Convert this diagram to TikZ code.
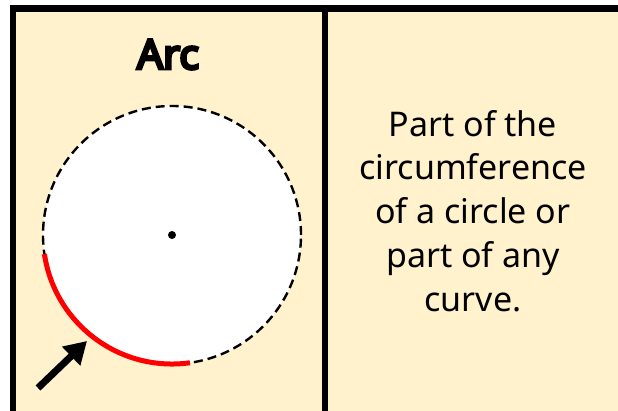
\documentclass[tikz,border=0pt]{standalone}
\usepackage{fontspec}
\setmainfont{Noto Sans}
\newfontfamily\titlefont{Noto Sans}[FakeBold=7]
\usepackage{tikz}
\usetikzlibrary{arrows.meta, positioning, calc}
\definecolor{mycream}{RGB}{255,242,204}
\definecolor{myred}{RGB}{255,0,0}
\definecolor{mydark}{RGB}{0,0,0}
\tikzset{
  frameline/.style={line width=6.5pt, color=mydark},
  titlenode/.style={font=\fontsize{41}{48}\titlefont, inner sep=0pt, anchor=base},
  textnode/.style={font=\fontsize{34}{43.8}\selectfont, align=center, inner sep=0pt},
  dashcircle/.style={circle, draw=mydark, fill=white, minimum size=258pt, inner sep=0pt,
    outer sep=0pt, line width=2.4pt, dash pattern=on 9pt off 5pt},
  arcline/.style={line width=5pt, color=myred},
  arrow/.style={-{Triangle[length=22pt, width=25pt]}, line width=7pt, color=mydark}
}

\begin{document}
\begin{tikzpicture}[x=1pt, y=-1pt]
  \useasboundingbox (0,0) rectangle (618,411);
  % Table background and rules
  \fill[mycream] (13,8.5) rectangle (618,411);
  \draw[frameline] (9.75,8.5) -- (618,8.5);
  \draw[frameline] (13,5.25) -- (13,411);
  \draw[frameline] (325,8.5) -- (325,411);

  % Left cell: the arc
  \node[titlenode] (title) at (168,69) {Arc};
  \node[dashcircle] (circ) at (172,235) {};
  \fill[mydark] (circ.center) circle (4pt);
  \draw[arcline] ([shift={(171.5:129)}]circ.center) arc[start angle=171.5, end angle=82, radius=129];
  \coordinate (tail) at (38,388);
  \coordinate (tip) at (87,341);
  \draw[arrow] (tail) -- (tip);

  % Right cell: definition
  \node[textnode] (defn) at (473,211) {Part of the\\circumference\\of a circle or\\part of any\\curve.};
\end{tikzpicture}
\end{document}
